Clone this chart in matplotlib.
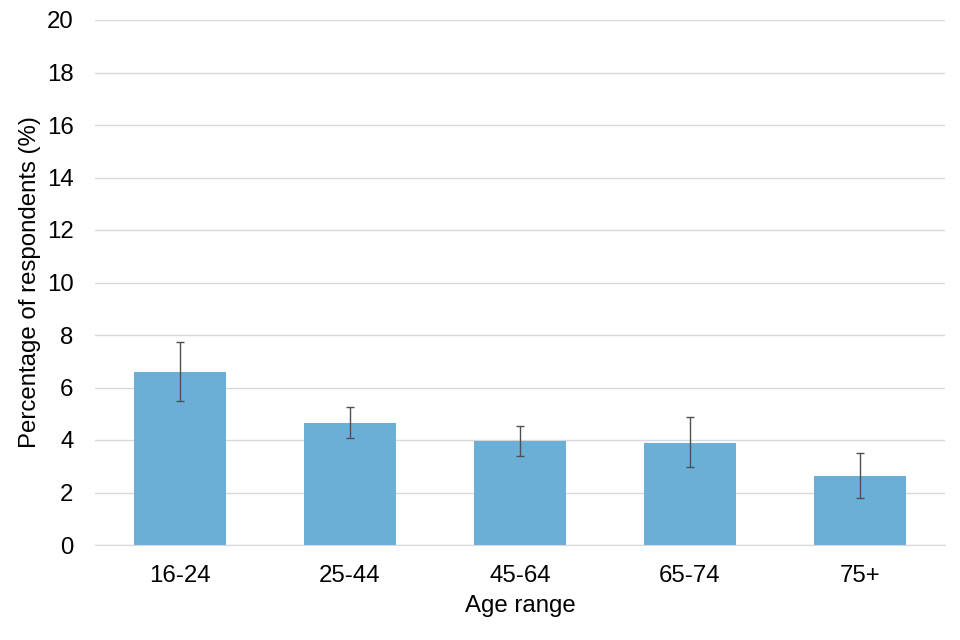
import matplotlib
matplotlib.use("Agg")
import matplotlib.pyplot as plt
import numpy as np

categories = ["16-24", "25-44", "45-64", "65-74", "75+"]
values = [6.59, 4.65, 3.97, 3.90, 2.64]
upper = [7.72, 5.27, 4.52, 4.86, 3.50]
lower = [5.47, 4.08, 3.40, 2.96, 1.78]

plt.rcParams['font.family'] = ['Liberation Sans', 'DejaVu Sans']

fig = plt.figure(figsize=(9.6, 6.4), dpi=100)
ax = fig.add_axes([95/960, 1-545/640, 850/960, 525/640])

x = np.arange(len(categories))
vals = np.array(values)
yerr = np.array([vals - np.array(lower), np.array(upper) - vals])
ax.bar(x, vals, width=0.54, color="#6BAED6", zorder=2)
ax.errorbar(x, vals, yerr=yerr, fmt='none', ecolor="#505050", elinewidth=1.0,
            capsize=2.8, capthick=1.0, zorder=3)

ax.set_xlim(-0.5, len(categories) - 0.5)
ax.set_ylim(0, 20)
ax.set_yticks(np.arange(0, 21, 2))
ax.set_xticks(x)
ax.set_xticklabels(categories)
ax.grid(axis='y', color="#D9D9D9", linewidth=1, zorder=0)
ax.set_axisbelow(True)
for s in ['top', 'right', 'left']:
    ax.spines[s].set_visible(False)
ax.spines['bottom'].set_color("#D9D9D9")
ax.tick_params(axis='both', length=0, labelsize=17.3, colors='black')
ax.tick_params(axis='y', pad=15.5)
ax.tick_params(axis='x', pad=14.5)
ax.set_ylabel("Percentage of respondents (%)", fontsize=17.3, labelpad=4)
ax.set_xlabel("Age range", fontsize=17.3, labelpad=6)

fig.savefig("out.png", dpi=100)
